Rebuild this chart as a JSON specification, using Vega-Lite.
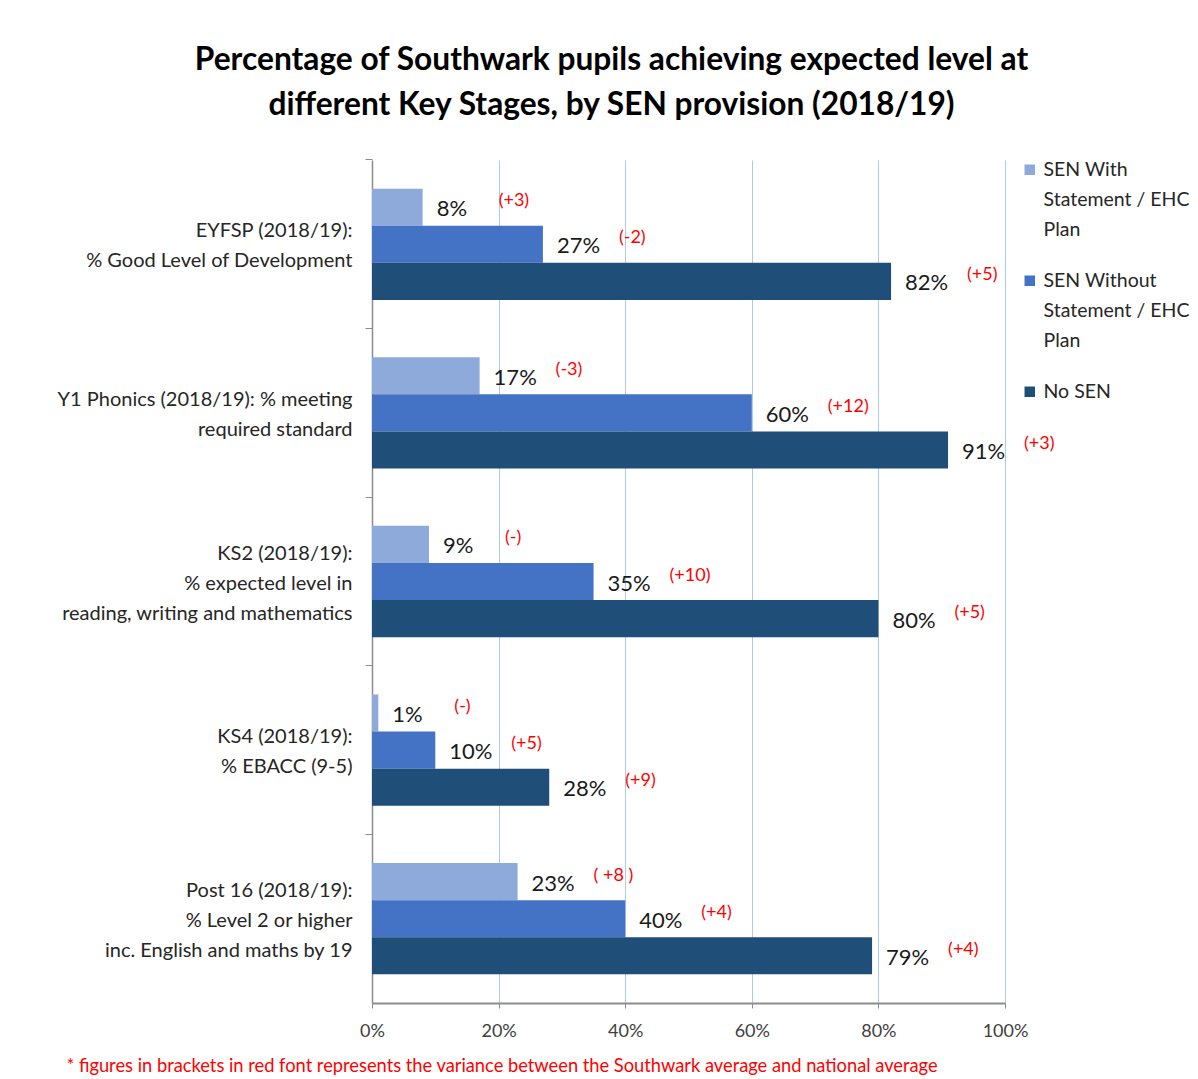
{
  "$schema": "https://vega.github.io/schema/vega-lite/v6.json",
  "width": 633,
  "height": 843,
  "autosize": {"type": "none"},
  "padding": {"left": 372, "top": 160, "right": 193, "bottom": 76},
  "background": "white",
  "config": {
    "font": "Lato",
    "view": {"stroke": null},
    "style": {"guide-label": {"lineHeight": 30}}
  },
  "title": {
    "text": ["Percentage of Southwark pupils achieving expected level at", "different Key Stages, by SEN provision (2018/19)"],
    "font": "Lato",
    "fontSize": 31.7,
    "fontWeight": "bold",
    "color": "#000000",
    "anchor": "middle",
    "frame": "group",
    "dx": -77,
    "offset": 37,
    "lineHeight": 45
  },
  "data": {
    "values": [
      {"stage": "EYFSP (2018/19):|% Good Level of Development", "group": "SEN With Statement / EHC Plan", "value": 8, "note": "(+3)"},
      {"stage": "EYFSP (2018/19):|% Good Level of Development", "group": "SEN Without Statement / EHC Plan", "value": 27, "note": "(-2)"},
      {"stage": "EYFSP (2018/19):|% Good Level of Development", "group": "No SEN", "value": 82, "note": "(+5)"},
      {"stage": "Y1 Phonics (2018/19): % meeting|required standard", "group": "SEN With Statement / EHC Plan", "value": 17, "note": "(-3)"},
      {"stage": "Y1 Phonics (2018/19): % meeting|required standard", "group": "SEN Without Statement / EHC Plan", "value": 60, "note": "(+12)"},
      {"stage": "Y1 Phonics (2018/19): % meeting|required standard", "group": "No SEN", "value": 91, "note": "(+3)"},
      {"stage": "KS2 (2018/19):|% expected level in|reading, writing and mathematics", "group": "SEN With Statement / EHC Plan", "value": 9, "note": "(-)"},
      {"stage": "KS2 (2018/19):|% expected level in|reading, writing and mathematics", "group": "SEN Without Statement / EHC Plan", "value": 35, "note": "(+10)"},
      {"stage": "KS2 (2018/19):|% expected level in|reading, writing and mathematics", "group": "No SEN", "value": 80, "note": "(+5)"},
      {"stage": "KS4 (2018/19):|% EBACC (9-5)", "group": "SEN With Statement / EHC Plan", "value": 1, "note": "(-)"},
      {"stage": "KS4 (2018/19):|% EBACC (9-5)", "group": "SEN Without Statement / EHC Plan", "value": 10, "note": "(+5)"},
      {"stage": "KS4 (2018/19):|% EBACC (9-5)", "group": "No SEN", "value": 28, "note": "(+9)"},
      {"stage": "Post 16 (2018/19):|% Level 2 or higher|inc. English and maths by 19", "group": "SEN With Statement / EHC Plan", "value": 23, "note": "( +8 )"},
      {"stage": "Post 16 (2018/19):|% Level 2 or higher|inc. English and maths by 19", "group": "SEN Without Statement / EHC Plan", "value": 40, "note": "(+4)"},
      {"stage": "Post 16 (2018/19):|% Level 2 or higher|inc. English and maths by 19", "group": "No SEN", "value": 79, "note": "(+4)"}
    ]
  },
  "encoding": {
    "y": {
      "field": "stage",
      "type": "nominal",
      "sort": null,
      "scale": {"paddingInner": 0.34, "paddingOuter": 0.17},
      "axis": {
        "title": null,
        "labelExpr": "split(datum.label, '|')",
        "labelFontSize": 20,
        "labelLineHeight": 30,
        "labelColor": "#262626",
        "labelPadding": 13,
        "labelLimit": 400,
        "labelOffset": {"condition": {"test": "length(split(datum.label, '|')) == 3", "value": -28}, "value": -13},
        "ticks": true,
        "bandPosition": -0.258,
        "tickSize": 7,
        "tickColor": "#8c8c8c",
        "domainColor": "#8c8c8c",
        "domainWidth": 1.5
      }
    },
    "yOffset": {
      "field": "group",
      "type": "nominal",
      "sort": ["SEN With Statement / EHC Plan", "SEN Without Statement / EHC Plan", "No SEN"],
      "scale": {"paddingInner": 0, "paddingOuter": 0}
    },
    "x": {
      "field": "value",
      "type": "quantitative",
      "scale": {"domain": [0, 100]},
      "axis": {
        "values": [0, 20, 40, 60, 80, 100],
        "labelExpr": "datum.value + '%'",
        "labelFontSize": 18,
        "labelColor": "#404040",
        "labelPadding": 14,
        "labelFlush": false,
        "tickSize": 5,
        "tickColor": "#8c8c8c",
        "domainColor": "#8c8c8c",
        "domainWidth": 2,
        "gridColor": "#a9cce8",
        "gridWidth": 1,
        "title": "* figures in brackets in red font represents the variance between the Southwark average and national average",
        "titleColor": "#ff0000",
        "titleFontSize": 18.3,
        "titleFontWeight": "normal",
        "titleAnchor": "start",
        "titleAlign": "left",
        "titleBaseline": "middle",
        "titleX": -306,
        "titleY": 63
      }
    }
  },
  "layer": [
    {
      "mark": {"type": "bar"},
      "encoding": {
        "color": {
          "field": "group",
          "type": "nominal",
          "scale": {
            "domain": ["SEN With Statement / EHC Plan", "SEN Without Statement / EHC Plan", "No SEN"],
            "range": ["#8eaadb", "#4472c4", "#1f4e79"]
          },
          "legend": {
            "title": null,
            "orient": "right",
            "offset": 15,
            "symbolType": "square",
            "symbolSize": 110,
            "symbolStrokeWidth": 0,
            "labelFontSize": 19.5,
            "labelColor": "#262626",
            "labelLimit": 200,
            "labelOffset": 4,
            "rowPadding": 30,
            "labelExpr": "datum.label == 'No SEN' ? 'No SEN' : [substring(datum.label, 0, indexof(datum.label, ' Statement')), 'Statement / EHC', 'Plan']"
          }
        }
      }
    },
    {
      "mark": {"type": "text", "align": "left", "baseline": "middle", "dx": 14, "dy": 2, "fontSize": 22, "color": "#1a1a1a", "text": {"expr": "datum.value + '%'"}},
      "encoding": {}
    },
    {
      "mark": {"type": "text", "align": "left", "baseline": "middle", "dx": 76, "dy": -6, "fontSize": 18, "color": "#ff0000"},
      "encoding": {
        "text": {"field": "note", "type": "nominal"}
      }
    }
  ]
}
